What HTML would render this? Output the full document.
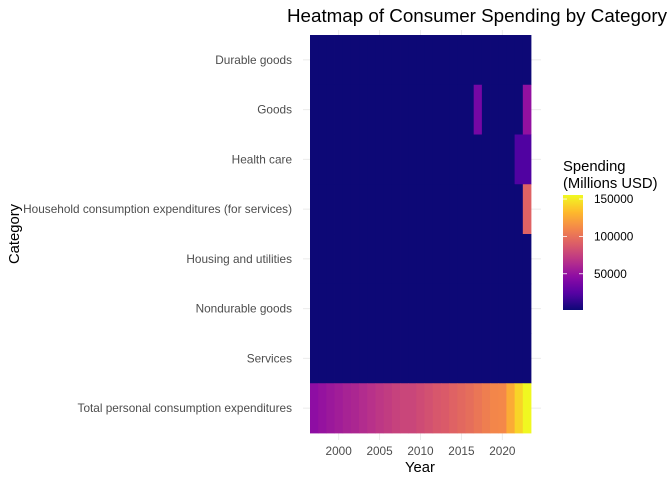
<!DOCTYPE html>
<html><head><meta charset="utf-8"><style>
body{margin:0;background:#fff}
svg{display:block;font-family:"Liberation Sans",sans-serif}
</style></head><body>
<svg id="c" width="672" height="480"></svg>
<script>
const categories=["Durable goods","Goods","Health care","Household consumption expenditures (for services)","Housing and utilities","Nondurable goods","Services","Total personal consumption expenditures"];
const years=[1997,1998,1999,2000,2001,2002,2003,2004,2005,2006,2007,2008,2009,2010,2011,2012,2013,2014,2015,2016,2017,2018,2019,2020,2021,2022,2023];
const totalValues=[46000,49000,52000,55000,58000,60000,63000,66000,69000,72000,75000,77000,77000,80000,83000,86000,88000,92000,95000,98000,102000,106000,110000,111000,126000,142000,155000];
const baseValue=0;
const specialCells=[["Goods",2017,36000],["Goods",2023,48000],["Health care",2022,21000],["Health care",2023,21000],["Household consumption expenditures (for services)",2023,92000]];
const xTicks=[2000,2005,2010,2015,2020];
const legendTicks=[50000,100000,150000];
const legendTickLabels=["50000","100000","150000"];
const vmin=0,vmax=155400;

const NS="http://www.w3.org/2000/svg";
const svg=document.getElementById('c');
function mk(t,a,p){const e=document.createElementNS(NS,t);for(const k in a)e.setAttribute(k,a[k]);(p||svg).appendChild(e);return e;}
const stops=[[13,8,118],[84,2,163],[139,10,165],[185,50,137],[219,92,104],[244,136,73],[254,188,43],[240,249,33]];
function plasma(t){t=Math.max(0,Math.min(1,t));const s=t*(stops.length-1),i=Math.min(Math.floor(s),stops.length-2),f=s-i;const c=stops[i].map((v,k)=>Math.round(v+(stops[i+1][k]-v)*f));return `rgb(${c})`;}
const x0=310,x1=531,y0=35,y1=433;
const cw=(x1-x0)/years.length,rh=(y1-y0)/categories.length;
const X=y=>x0+(y-(years[0]-0.5))*cw;
const Y=i=>y0+i*rh;
for(let i=0;i<categories.length;i++){const g=mk('line',{x1:303,x2:541,y1:Y(i)+rh/2,y2:Y(i)+rh/2,stroke:'#ebebeb','stroke-width':1});}
xTicks.forEach(t=>{const g=mk('line',{x1:X(t),x2:X(t),y1:30,y2:440,stroke:'#ebebeb','stroke-width':1});});
const val={};
categories.forEach(c=>{val[c]={};years.forEach(y=>val[c][y]=baseValue);});
years.forEach((y,i)=>val["Total personal consumption expenditures"][y]=totalValues[i]);
specialCells.forEach(([c,y,v])=>val[c][y]=v);
categories.forEach((c,i)=>years.forEach(y=>{
 const r=mk('rect',{x:X(y-0.5),y:Y(i),width:cw+0.4,height:rh+0.4,fill:plasma((val[c][y]-vmin)/(vmax-vmin))});
 
}));
categories.forEach((c,i)=>{const t=mk('text',{x:292,y:Y(i)+rh/2+4,'text-anchor':'end','font-size':11.8,fill:'#4d4d4d'});t.textContent=c;});
xTicks.forEach(v=>{const t=mk('text',{x:X(v),y:455,'text-anchor':'middle','font-size':11.8,fill:'#4d4d4d'});t.textContent=v;});
let t=mk('text',{x:477,y:22,'text-anchor':'middle','font-size':18.8,fill:'#000'});t.textContent="Heatmap of Consumer Spending by Category";
t=mk('text',{x:420,y:472,'text-anchor':'middle','font-size':14.8,fill:'#000'});t.textContent="Year";
t=mk('text',{x:19,y:234,'text-anchor':'middle','font-size':14.8,fill:'#000',transform:'rotate(-90 19 234)'});t.textContent="Category";
t=mk('text',{x:563,y:171,'font-size':14.8,fill:'#000'});t.textContent="Spending";
t=mk('text',{x:563,y:188,'font-size':14.8,fill:'#000'});t.textContent="(Millions USD)";
const defs=mk('defs',{});const lg=mk('linearGradient',{id:'lg',x1:0,y1:1,x2:0,y2:0},defs);
for(let i=0;i<=20;i++)mk('stop',{offset:i/20,'stop-color':plasma(i/20)},lg);
const ly0=195,ly1=310;const LY=v=>ly1-(v-1500)/(vmax-1500)*(ly1-ly0);
const bar=mk('rect',{x:563,y:ly0,width:20,height:ly1-ly0,fill:'url(#lg)'});
legendTicks.forEach((v,i)=>{
 mk('line',{x1:563,x2:567,y1:LY(v),y2:LY(v),stroke:'#fff','stroke-width':0.8});
 mk('line',{x1:579,x2:583,y1:LY(v),y2:LY(v),stroke:'#fff','stroke-width':0.8});
 const l=mk('text',{x:594,y:LY(v)+4,'font-size':11.8,fill:'#000'});l.textContent=legendTickLabels[i];
});
</script>
</body></html>
